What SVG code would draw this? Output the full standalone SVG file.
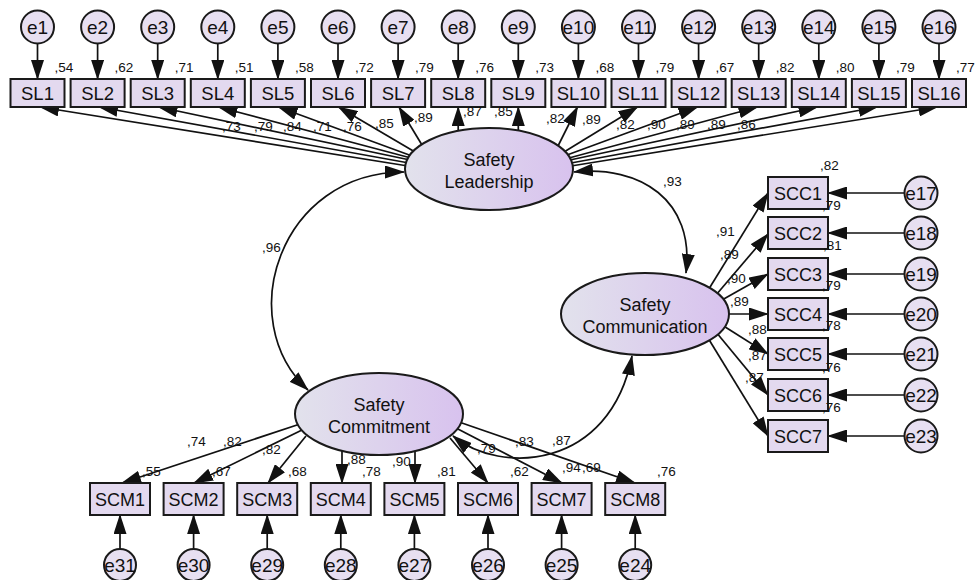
<svg xmlns="http://www.w3.org/2000/svg" width="976" height="580" viewBox="0 0 976 580">
<defs>
<linearGradient id="latGrad" x1="0" y1="0" x2="1" y2="0">
<stop offset="0" stop-color="#e2e2ec"/>
<stop offset="1" stop-color="#d8c2ee"/>
</linearGradient>
<marker id="ah" markerUnits="userSpaceOnUse" markerWidth="20" markerHeight="13" refX="19" refY="6.5" orient="auto-start-reverse" viewBox="0 0 20 13">
<path d="M0,0 L20,6.5 L0,13 z" fill="#111"/>
</marker>
<style>
.box{fill:#e3d9ef;stroke:#1a1a1a;stroke-width:2}
.err{fill:#e7dff1;stroke:#1a1a1a;stroke-width:2}
.lat{fill:url(#latGrad);stroke:#1a1a1a;stroke-width:2}
.t{font-family:"Liberation Sans",Arial,sans-serif;font-size:18px;text-anchor:middle;fill:#111}
.ts{font-size:18.5px}
.te{font-size:19px}
.n{font-family:"Liberation Sans",Arial,sans-serif;font-size:13.5px;fill:#111}
.c{stroke:#111;stroke-width:1.7;fill:none;marker-end:url(#ah)}
.cv{stroke:#111;stroke-width:1.7;fill:none;marker-start:url(#ah);marker-end:url(#ah)}
</style>
</defs>
<rect width="976" height="580" fill="#fff"/>
<g id="connectors">
<line class="c" x1="37.5" y1="43" x2="37.5" y2="79"/>
<line class="c" x1="97.6" y1="43" x2="97.6" y2="79"/>
<line class="c" x1="157.7" y1="43" x2="157.7" y2="79"/>
<line class="c" x1="217.8" y1="43" x2="217.8" y2="79"/>
<line class="c" x1="277.9" y1="43" x2="277.9" y2="79"/>
<line class="c" x1="338" y1="43" x2="338" y2="79"/>
<line class="c" x1="398.1" y1="43" x2="398.1" y2="79"/>
<line class="c" x1="458.2" y1="43" x2="458.2" y2="79"/>
<line class="c" x1="518.3" y1="43" x2="518.3" y2="79"/>
<line class="c" x1="578.4" y1="43" x2="578.4" y2="79"/>
<line class="c" x1="638.5" y1="43" x2="638.5" y2="79"/>
<line class="c" x1="698.6" y1="43" x2="698.6" y2="79"/>
<line class="c" x1="758.7" y1="43" x2="758.7" y2="79"/>
<line class="c" x1="818.8" y1="43" x2="818.8" y2="79"/>
<line class="c" x1="878.9" y1="43" x2="878.9" y2="79"/>
<line class="c" x1="939" y1="43" x2="939" y2="79"/>
<line class="c" x1="408" y1="166" x2="40" y2="107"/>
<line class="c" x1="409" y1="163" x2="99" y2="107"/>
<line class="c" x1="410" y1="160" x2="158.5" y2="107"/>
<line class="c" x1="411" y1="158" x2="218.5" y2="107"/>
<line class="c" x1="412" y1="156" x2="278.5" y2="107"/>
<line class="c" x1="415" y1="152" x2="338.5" y2="107"/>
<line class="c" x1="422" y1="145" x2="399" y2="107"/>
<line class="c" x1="458.2" y1="133" x2="458.2" y2="107"/>
<line class="c" x1="518.3" y1="133" x2="518.3" y2="107"/>
<line class="c" x1="558" y1="146" x2="577.5" y2="107"/>
<line class="c" x1="564" y1="152" x2="637.5" y2="107"/>
<line class="c" x1="567" y1="155" x2="697.5" y2="107"/>
<line class="c" x1="569" y1="158" x2="757.5" y2="107"/>
<line class="c" x1="570" y1="160" x2="817.5" y2="107"/>
<line class="c" x1="571" y1="163" x2="877.5" y2="107"/>
<line class="c" x1="571" y1="166" x2="937.5" y2="107"/>
<line class="c" x1="707" y1="292" x2="768" y2="193"/>
<line class="c" x1="716" y1="295" x2="768" y2="234"/>
<line class="c" x1="722" y1="300" x2="768" y2="274"/>
<line class="c" x1="726" y1="314" x2="768" y2="314"/>
<line class="c" x1="722" y1="325" x2="768" y2="354"/>
<line class="c" x1="716" y1="332" x2="768" y2="395"/>
<line class="c" x1="708" y1="338" x2="768" y2="436"/>
<line class="c" x1="904" y1="193" x2="828" y2="193"/>
<line class="c" x1="904" y1="233" x2="828" y2="233"/>
<line class="c" x1="904" y1="274" x2="828" y2="274"/>
<line class="c" x1="904" y1="314" x2="828" y2="314"/>
<line class="c" x1="904" y1="354" x2="828" y2="354"/>
<line class="c" x1="904" y1="395" x2="828" y2="395"/>
<line class="c" x1="904" y1="436" x2="828" y2="436"/>
<line class="c" x1="300" y1="424" x2="122" y2="483"/>
<line class="c" x1="302" y1="430" x2="194" y2="483"/>
<line class="c" x1="306" y1="436" x2="268" y2="483"/>
<line class="c" x1="342" y1="450" x2="342" y2="483"/>
<line class="c" x1="415" y1="452" x2="415" y2="483"/>
<line class="c" x1="450" y1="438" x2="488" y2="483"/>
<line class="c" x1="456" y1="428" x2="562" y2="483"/>
<line class="c" x1="459" y1="422" x2="635" y2="483"/>
<line class="c" x1="120" y1="549" x2="120" y2="515"/>
<line class="c" x1="193.6" y1="549" x2="193.6" y2="515"/>
<line class="c" x1="267.2" y1="549" x2="267.2" y2="515"/>
<line class="c" x1="340.8" y1="549" x2="340.8" y2="515"/>
<line class="c" x1="414.4" y1="549" x2="414.4" y2="515"/>
<line class="c" x1="488" y1="549" x2="488" y2="515"/>
<line class="c" x1="561.6" y1="549" x2="561.6" y2="515"/>
<line class="c" x1="635.2" y1="549" x2="635.2" y2="515"/>
<path class="cv" d="M404,172 C280,172 232,320 308,390"/>
<path class="cv" d="M574,172 C640,165 695,200 686,273"/>
<path class="cv" d="M453,436 C500,475 610,470 632,356"/>
</g>
<g id="latents">
<g id="safety-leadership"><ellipse class="lat" cx="489" cy="169" rx="84" ry="41"/><text class="t" x="489" y="166">Safety</text><text class="t" x="489" y="188">Leadership</text></g>
<g id="safety-communication"><ellipse class="lat" cx="645" cy="314" rx="84" ry="41"/><text class="t" x="645" y="311">Safety</text><text class="t" x="645" y="333">Communication</text></g>
<g id="safety-commitment"><ellipse class="lat" cx="379" cy="414" rx="84" ry="41"/><text class="t" x="379" y="411">Safety</text><text class="t" x="379" y="433">Commitment</text></g>
</g>
<g id="sl-items">
<g id="SL1"><rect class="box" x="10.5" y="79" width="54" height="28"/><text class="t ts" x="37.5" y="100">SL1</text></g>
<g id="SL2"><rect class="box" x="70.6" y="79" width="54" height="28"/><text class="t ts" x="97.6" y="100">SL2</text></g>
<g id="SL3"><rect class="box" x="130.7" y="79" width="54" height="28"/><text class="t ts" x="157.7" y="100">SL3</text></g>
<g id="SL4"><rect class="box" x="190.8" y="79" width="54" height="28"/><text class="t ts" x="217.8" y="100">SL4</text></g>
<g id="SL5"><rect class="box" x="250.9" y="79" width="54" height="28"/><text class="t ts" x="277.9" y="100">SL5</text></g>
<g id="SL6"><rect class="box" x="311" y="79" width="54" height="28"/><text class="t ts" x="338" y="100">SL6</text></g>
<g id="SL7"><rect class="box" x="371.1" y="79" width="54" height="28"/><text class="t ts" x="398.1" y="100">SL7</text></g>
<g id="SL8"><rect class="box" x="431.2" y="79" width="54" height="28"/><text class="t ts" x="458.2" y="100">SL8</text></g>
<g id="SL9"><rect class="box" x="491.3" y="79" width="54" height="28"/><text class="t ts" x="518.3" y="100">SL9</text></g>
<g id="SL10"><rect class="box" x="551.4" y="79" width="54" height="28"/><text class="t ts" x="578.4" y="100">SL10</text></g>
<g id="SL11"><rect class="box" x="611.5" y="79" width="54" height="28"/><text class="t ts" x="638.5" y="100">SL11</text></g>
<g id="SL12"><rect class="box" x="671.6" y="79" width="54" height="28"/><text class="t ts" x="698.6" y="100">SL12</text></g>
<g id="SL13"><rect class="box" x="731.7" y="79" width="54" height="28"/><text class="t ts" x="758.7" y="100">SL13</text></g>
<g id="SL14"><rect class="box" x="791.8" y="79" width="54" height="28"/><text class="t ts" x="818.8" y="100">SL14</text></g>
<g id="SL15"><rect class="box" x="851.9" y="79" width="54" height="28"/><text class="t ts" x="878.9" y="100">SL15</text></g>
<g id="SL16"><rect class="box" x="912" y="79" width="54" height="28"/><text class="t ts" x="939" y="100">SL16</text></g>
</g>
<g id="sl-errors">
<g id="e1"><circle class="err" cx="37.5" cy="27" r="16.5"/><text class="t te" x="37.5" y="34">e1</text></g>
<g id="e2"><circle class="err" cx="97.6" cy="27" r="16.5"/><text class="t te" x="97.6" y="34">e2</text></g>
<g id="e3"><circle class="err" cx="157.7" cy="27" r="16.5"/><text class="t te" x="157.7" y="34">e3</text></g>
<g id="e4"><circle class="err" cx="217.8" cy="27" r="16.5"/><text class="t te" x="217.8" y="34">e4</text></g>
<g id="e5"><circle class="err" cx="277.9" cy="27" r="16.5"/><text class="t te" x="277.9" y="34">e5</text></g>
<g id="e6"><circle class="err" cx="338" cy="27" r="16.5"/><text class="t te" x="338" y="34">e6</text></g>
<g id="e7"><circle class="err" cx="398.1" cy="27" r="16.5"/><text class="t te" x="398.1" y="34">e7</text></g>
<g id="e8"><circle class="err" cx="458.2" cy="27" r="16.5"/><text class="t te" x="458.2" y="34">e8</text></g>
<g id="e9"><circle class="err" cx="518.3" cy="27" r="16.5"/><text class="t te" x="518.3" y="34">e9</text></g>
<g id="e10"><circle class="err" cx="578.4" cy="27" r="16.5"/><text class="t te" x="578.4" y="34">e10</text></g>
<g id="e11"><circle class="err" cx="638.5" cy="27" r="16.5"/><text class="t te" x="638.5" y="34">e11</text></g>
<g id="e12"><circle class="err" cx="698.6" cy="27" r="16.5"/><text class="t te" x="698.6" y="34">e12</text></g>
<g id="e13"><circle class="err" cx="758.7" cy="27" r="16.5"/><text class="t te" x="758.7" y="34">e13</text></g>
<g id="e14"><circle class="err" cx="818.8" cy="27" r="16.5"/><text class="t te" x="818.8" y="34">e14</text></g>
<g id="e15"><circle class="err" cx="878.9" cy="27" r="16.5"/><text class="t te" x="878.9" y="34">e15</text></g>
<g id="e16"><circle class="err" cx="939" cy="27" r="16.5"/><text class="t te" x="939" y="34">e16</text></g>
</g>
<g id="scc-items">
<g id="SCC1"><rect class="box" x="768" y="177" width="60" height="32"/><text class="t" x="798" y="199.5">SCC1</text></g>
<g id="SCC2"><rect class="box" x="768" y="217" width="60" height="32"/><text class="t" x="798" y="239.5">SCC2</text></g>
<g id="SCC3"><rect class="box" x="768" y="258" width="60" height="32"/><text class="t" x="798" y="280.5">SCC3</text></g>
<g id="SCC4"><rect class="box" x="768" y="298" width="60" height="32"/><text class="t" x="798" y="320.5">SCC4</text></g>
<g id="SCC5"><rect class="box" x="768" y="338" width="60" height="32"/><text class="t" x="798" y="360.5">SCC5</text></g>
<g id="SCC6"><rect class="box" x="768" y="379" width="60" height="32"/><text class="t" x="798" y="401.5">SCC6</text></g>
<g id="SCC7"><rect class="box" x="768" y="420" width="60" height="32"/><text class="t" x="798" y="442.5">SCC7</text></g>
</g>
<g id="scc-errors">
<g id="e17"><circle class="err" cx="921" cy="193" r="16.5"/><text class="t te" x="921" y="200">e17</text></g>
<g id="e18"><circle class="err" cx="921" cy="233" r="16.5"/><text class="t te" x="921" y="240">e18</text></g>
<g id="e19"><circle class="err" cx="921" cy="274" r="16.5"/><text class="t te" x="921" y="281">e19</text></g>
<g id="e20"><circle class="err" cx="921" cy="314" r="16.5"/><text class="t te" x="921" y="321">e20</text></g>
<g id="e21"><circle class="err" cx="921" cy="354" r="16.5"/><text class="t te" x="921" y="361">e21</text></g>
<g id="e22"><circle class="err" cx="921" cy="395" r="16.5"/><text class="t te" x="921" y="402">e22</text></g>
<g id="e23"><circle class="err" cx="921" cy="436" r="16.5"/><text class="t te" x="921" y="443">e23</text></g>
</g>
<g id="scm-items">
<g id="SCM1"><rect class="box" x="90" y="483" width="60" height="32"/><text class="t" x="120" y="505.5">SCM1</text></g>
<g id="SCM2"><rect class="box" x="163.6" y="483" width="60" height="32"/><text class="t" x="193.6" y="505.5">SCM2</text></g>
<g id="SCM3"><rect class="box" x="237.2" y="483" width="60" height="32"/><text class="t" x="267.2" y="505.5">SCM3</text></g>
<g id="SCM4"><rect class="box" x="310.8" y="483" width="60" height="32"/><text class="t" x="340.8" y="505.5">SCM4</text></g>
<g id="SCM5"><rect class="box" x="384.4" y="483" width="60" height="32"/><text class="t" x="414.4" y="505.5">SCM5</text></g>
<g id="SCM6"><rect class="box" x="458" y="483" width="60" height="32"/><text class="t" x="488" y="505.5">SCM6</text></g>
<g id="SCM7"><rect class="box" x="531.6" y="483" width="60" height="32"/><text class="t" x="561.6" y="505.5">SCM7</text></g>
<g id="SCM8"><rect class="box" x="605.2" y="483" width="60" height="32"/><text class="t" x="635.2" y="505.5">SCM8</text></g>
</g>
<g id="scm-errors">
<g id="e31"><circle class="err" cx="120" cy="565" r="16"/><text class="t te" x="120" y="572">e31</text></g>
<g id="e30"><circle class="err" cx="193.6" cy="565" r="16"/><text class="t te" x="193.6" y="572">e30</text></g>
<g id="e29"><circle class="err" cx="267.2" cy="565" r="16"/><text class="t te" x="267.2" y="572">e29</text></g>
<g id="e28"><circle class="err" cx="340.8" cy="565" r="16"/><text class="t te" x="340.8" y="572">e28</text></g>
<g id="e27"><circle class="err" cx="414.4" cy="565" r="16"/><text class="t te" x="414.4" y="572">e27</text></g>
<g id="e26"><circle class="err" cx="488" cy="565" r="16"/><text class="t te" x="488" y="572">e26</text></g>
<g id="e25"><circle class="err" cx="561.6" cy="565" r="16"/><text class="t te" x="561.6" y="572">e25</text></g>
<g id="e24"><circle class="err" cx="635.2" cy="565" r="16"/><text class="t te" x="635.2" y="572">e24</text></g>
</g>
<g id="estimates">
<text class="n" x="54.5" y="72">,54</text>
<text class="n" x="114.6" y="72">,62</text>
<text class="n" x="174.7" y="72">,71</text>
<text class="n" x="234.8" y="72">,51</text>
<text class="n" x="294.9" y="72">,58</text>
<text class="n" x="355" y="72">,72</text>
<text class="n" x="415.1" y="72">,79</text>
<text class="n" x="475.2" y="72">,76</text>
<text class="n" x="535.3" y="72">,73</text>
<text class="n" x="595.4" y="72">,68</text>
<text class="n" x="655.5" y="72">,79</text>
<text class="n" x="715.6" y="72">,67</text>
<text class="n" x="775.7" y="72">,82</text>
<text class="n" x="835.8" y="72">,80</text>
<text class="n" x="895.9" y="72">,79</text>
<text class="n" x="956" y="72">,77</text>
<text class="n" x="222" y="131">,73</text>
<text class="n" x="254" y="131">,79</text>
<text class="n" x="283" y="131">,84</text>
<text class="n" x="313" y="131">,71</text>
<text class="n" x="343" y="131">,76</text>
<text class="n" x="375" y="128">,85</text>
<text class="n" x="414" y="122">,89</text>
<text class="n" x="463" y="116">,87</text>
<text class="n" x="494" y="116">,85</text>
<text class="n" x="546" y="123">,82</text>
<text class="n" x="582" y="124">,89</text>
<text class="n" x="616" y="129">,82</text>
<text class="n" x="647" y="129">,90</text>
<text class="n" x="676" y="129">,89</text>
<text class="n" x="707" y="129">,89</text>
<text class="n" x="737" y="129">,86</text>
<text class="n" x="262" y="252">,96</text>
<text class="n" x="663" y="186">,93</text>
<text class="n" x="820" y="170">,82</text>
<text class="n" x="822" y="210">,79</text>
<text class="n" x="823" y="250">,81</text>
<text class="n" x="822" y="290">,79</text>
<text class="n" x="822" y="330">,78</text>
<text class="n" x="822" y="372">,76</text>
<text class="n" x="822" y="412">,76</text>
<text class="n" x="716" y="236">,91</text>
<text class="n" x="720" y="259">,89</text>
<text class="n" x="727" y="283">,90</text>
<text class="n" x="730" y="306">,89</text>
<text class="n" x="748" y="334">,88</text>
<text class="n" x="748" y="360">,87</text>
<text class="n" x="745" y="382">,87</text>
<text class="n" x="187" y="446">,74</text>
<text class="n" x="223" y="446">,82</text>
<text class="n" x="262" y="454">,82</text>
<text class="n" x="347" y="464">,88</text>
<text class="n" x="392" y="466">,90</text>
<text class="n" x="477" y="453">,79</text>
<text class="n" x="515" y="446">,83</text>
<text class="n" x="552" y="445">,87</text>
<text class="n" x="142" y="476">,55</text>
<text class="n" x="212" y="476">,67</text>
<text class="n" x="288" y="476">,68</text>
<text class="n" x="362" y="476">,78</text>
<text class="n" x="437" y="476">,81</text>
<text class="n" x="510" y="476">,62</text>
<text class="n" x="562" y="472">,94</text>
<text class="n" x="582" y="472">,69</text>
<text class="n" x="657" y="476">,76</text>
</g>
</svg>
